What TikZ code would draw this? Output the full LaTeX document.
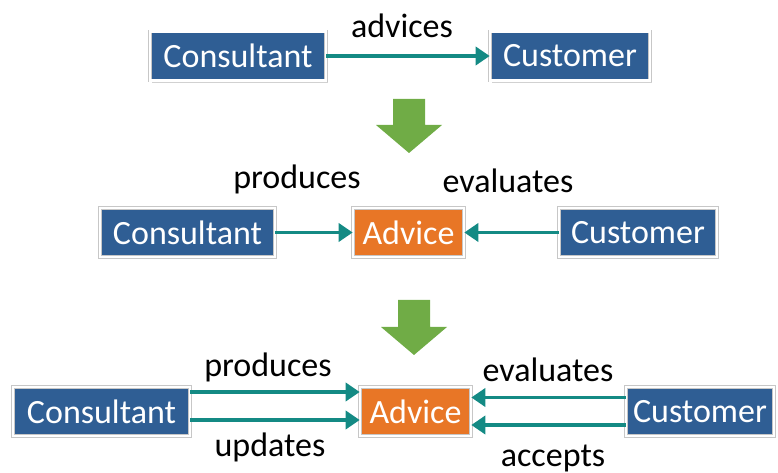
\documentclass[tikz,border=0pt]{standalone}
\usepackage{fontspec}
\setmainfont{Carlito}
\usetikzlibrary{arrows.meta,shadows}
\definecolor{boxblue}{RGB}{47,94,148}
\definecolor{boxorange}{RGB}{232,118,38}
\definecolor{teal1}{RGB}{20,138,132}
\definecolor{green1}{RGB}{112,172,70}
\tikzset{
  box/.style={draw=black!22, line width=0.6pt, double=white, double distance=2.6pt,
    text=white, font=\fontsize{34}{34}\selectfont,
    minimum height=49pt, inner sep=0pt, anchor=center,
    drop shadow={shadow xshift=1.5pt, shadow yshift=-2.5pt, opacity=0.3, fill=black!60}},
  bluebox/.style={box, fill=boxblue},
  orangebox/.style={box, fill=boxorange},
  arr/.style={draw=teal1, line width=3.8pt, -{Triangle[length=14pt,width=18pt]}},
  lbl/.style={font=\fontsize{34}{34}\selectfont, text=black, inner sep=0pt},
  garrow/.style={fill=green1, draw=none}
}
\begin{document}
\begin{tikzpicture}[x=1pt,y=1pt]
\useasboundingbox (0,0) rectangle (778,473);
% row 1
\node[bluebox, minimum width=176pt] (c1) at (238,417) {Consultant};
\node[bluebox, minimum width=160pt] (u1) at (570,417) {Customer};
\draw[arr] (c1.east) -- (u1.west);
\node[lbl] (l1) at (402,447) {advices};
% green arrow 1
\fill[garrow] (393,374) -- (425,374) -- (425,348) -- (442,348) -- (409,320) -- (376,348) -- (393,348) -- cycle;
% row 2
\node[bluebox, minimum width=175pt] (c2) at (187.5,240.5) {Consultant};
\node[orangebox, minimum width=111pt] (a2) at (408.5,240.5) {Advice};
\node[bluebox, minimum width=158pt] (u2) at (638,240.5) {Customer};
\draw[arr] (c2.east) -- (a2.west);
\draw[arr] (u2.west) -- (a2.east);
\node[lbl] (l2) at (297,294) {produces};
\node[lbl] (l3) at (508,292) {evaluates};
% green arrow 2
\fill[garrow] (398,173) -- (430,173) -- (430,146) -- (447,146) -- (414,118) -- (381,146) -- (398,146) -- cycle;
% row 3
\node[bluebox, minimum width=177pt] (c3) at (101.5,61.5) {Consultant};
\node[orangebox, minimum width=111pt] (a3) at (415.5,61.5) {Advice};
\node[bluebox, minimum width=148pt] (u3) at (700,61.5) {Customer};
\draw[arr] ([yshift=19.5pt]c3.east) -- ([yshift=19.5pt]a3.west);
\draw[arr] ([yshift=-8.5pt]c3.east) -- ([yshift=-8.5pt]a3.west);
\draw[arr] ([yshift=14pt]u3.west) -- ([yshift=14pt]a3.east);
\draw[arr] ([yshift=-13.5pt]u3.west) -- ([yshift=-13.5pt]a3.east);
\node[lbl] (l4) at (268,106) {produces};
\node[lbl] (l5) at (270,26) {updates};
\node[lbl] (l6) at (548,103) {evaluates};
\node[lbl] (l7) at (553,15) {accepts};
\end{tikzpicture}
\end{document}
